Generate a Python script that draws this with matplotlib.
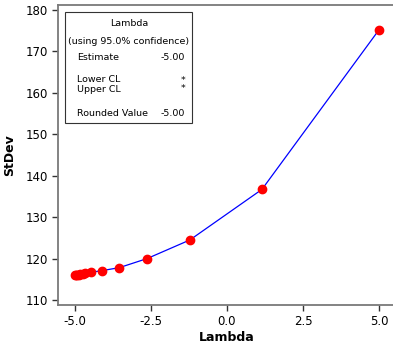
import matplotlib
matplotlib.use("Agg")
import matplotlib.pyplot as plt
from matplotlib.patches import Rectangle

# Box-Cox StDev vs Lambda
lam = [-5.0, -4.97, -4.93, -4.88, -4.82, -4.75, -4.66, -4.47, -4.11, -3.55,
       -2.63, -1.22, 1.15, 5.0]
stdev = [116.0, 116.05, 116.1, 116.15, 116.25, 116.35, 116.5, 116.7, 117.1,
         117.8, 120.0, 124.5, 136.7, 175.2]

xticks = [-5.0, -2.5, 0.0, 2.5, 5.0]
yticks = [110, 120, 130, 140, 150, 160, 170, 180]

info_rows = [("Estimate", "-5.00"), ("Lower CL", "*"), ("Upper CL", "*"),
             ("Rounded Value", "-5.00")]

fig = plt.figure(figsize=(3.93, 3.43), dpi=100)
ax = fig.add_axes([0.1476, 0.1108, 0.86, 0.8746])

ax.plot(lam, stdev, color="blue", lw=0.9, zorder=2)
ax.plot(lam, stdev, "o", color="red", ms=6, mec="red", zorder=3)

ax.set_xlim(-5.56, 5.56)
ax.set_ylim(108.8, 181.2)
ax.set_xticks(xticks)
ax.set_xticklabels([f"{v:.1f}" for v in xticks])
ax.set_yticks(yticks)

for s in ax.spines.values():
    s.set_color("#7a7a7a")
    s.set_linewidth(1.3)
ax.spines["right"].set_visible(False)
ax.tick_params(direction="out", length=4, width=1, colors="#333333",
               labelsize=8.5, labelcolor="black")

ax.set_xlabel("Lambda", fontsize=9, fontweight="bold", labelpad=2)
ax.set_ylabel("StDev", fontsize=9, fontweight="bold")
ax.yaxis.set_label_coords(-0.125, 0.5)

# info box placed in figure pixels
def fx(px):
    return px / 393

def fy(py):
    return 1 - py / 343

fig.patches.append(Rectangle((fx(65), fy(123)), fx(192) - fx(65), fy(12) - fy(123),
                             transform=fig.transFigure, fill=False,
                             ec="#333333", lw=0.8, zorder=5))
fs = 6.8
fig.text(fx(129), fy(23), "Lambda", ha="center", va="center", fontsize=fs)
fig.text(fx(129), fy(41), "(using 95.0% confidence)", ha="center", va="center", fontsize=fs)
for (lab, val), py in zip(info_rows, [58, 80, 89, 113]):
    fig.text(fx(77), fy(py), lab, ha="left", va="center", fontsize=fs)
    fig.text(fx(185), fy(py), val, ha="right", va="center", fontsize=fs)

fig.savefig("out.png", dpi=100)
